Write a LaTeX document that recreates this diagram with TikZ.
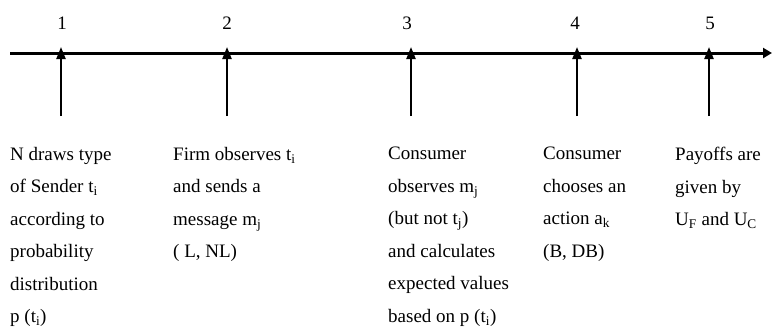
\documentclass[tikz,border=0pt]{standalone}
\usepackage{fontspec}
\setmainfont{Liberation Serif}
\usetikzlibrary{arrows.meta}

\begin{document}
\begin{tikzpicture}[x=1bp,y=-1bp,
    stage/.style={line width=2.2bp,-{Triangle[length=12bp,width=9bp]}},
    num/.style={font=\fontsize{19bp}{22bp}\selectfont},
    desc/.style={anchor=north west,align=left,inner sep=0pt,
      font=\fontsize{19bp}{32.5bp}\selectfont}]
    \useasboundingbox (0,0) rectangle (772,329);
    %%
    \coordinate (start) at (10,53);
    \coordinate (end) at (772,53);
    \draw[line width=3bp,-{Triangle[length=9bp,width=10bp]}] (start) -- (end);
    %%
    \node[num] (n1) at (62,23) {1};
    \coordinate (tip1) at (61,47);
    \coordinate (foot1) at (61,116);
    \draw[stage] (foot1) -- (tip1);
    \node[desc] (d1) at (10,147) {N draws type\\of Sender t\textsubscript{i}\\according to\\probability\\distribution\\p (t\textsubscript{i})};
    %%
    \node[num] (n2) at (227,23) {2};
    \coordinate (tip2) at (227,47);
    \coordinate (foot2) at (227,116);
    \draw[stage] (foot2) -- (tip2);
    \node[desc] (d2) at (173,147) {Firm observes t\textsubscript{i}\\and sends a\\message m\textsubscript{j}\\( L, NL)};
    %%
    \node[num] (n3) at (407,23) {3};
    \coordinate (tip3) at (411,47);
    \coordinate (foot3) at (411,116);
    \draw[stage] (foot3) -- (tip3);
    \node[desc] (d3) at (388,147) {Consumer\\observes m\textsubscript{j}\\(but not t\textsubscript{j})\\and calculates\\expected values\\based on p (t\textsubscript{i})};
    %%
    \node[num] (n4) at (575,23) {4};
    \coordinate (tip4) at (577,47);
    \coordinate (foot4) at (577,116);
    \draw[stage] (foot4) -- (tip4);
    \node[desc] (d4) at (543,147) {Consumer\\chooses an\\action a\textsubscript{k}\\(B, DB)};
    %%
    \node[num] (n5) at (710,23) {5};
    \coordinate (tip5) at (709,47);
    \coordinate (foot5) at (709,116);
    \draw[stage] (foot5) -- (tip5);
    \node[desc] (d5) at (675,147) {Payoffs are\\given by\\U\textsubscript{F} and U\textsubscript{C}};
  \end{tikzpicture}
\end{document}
